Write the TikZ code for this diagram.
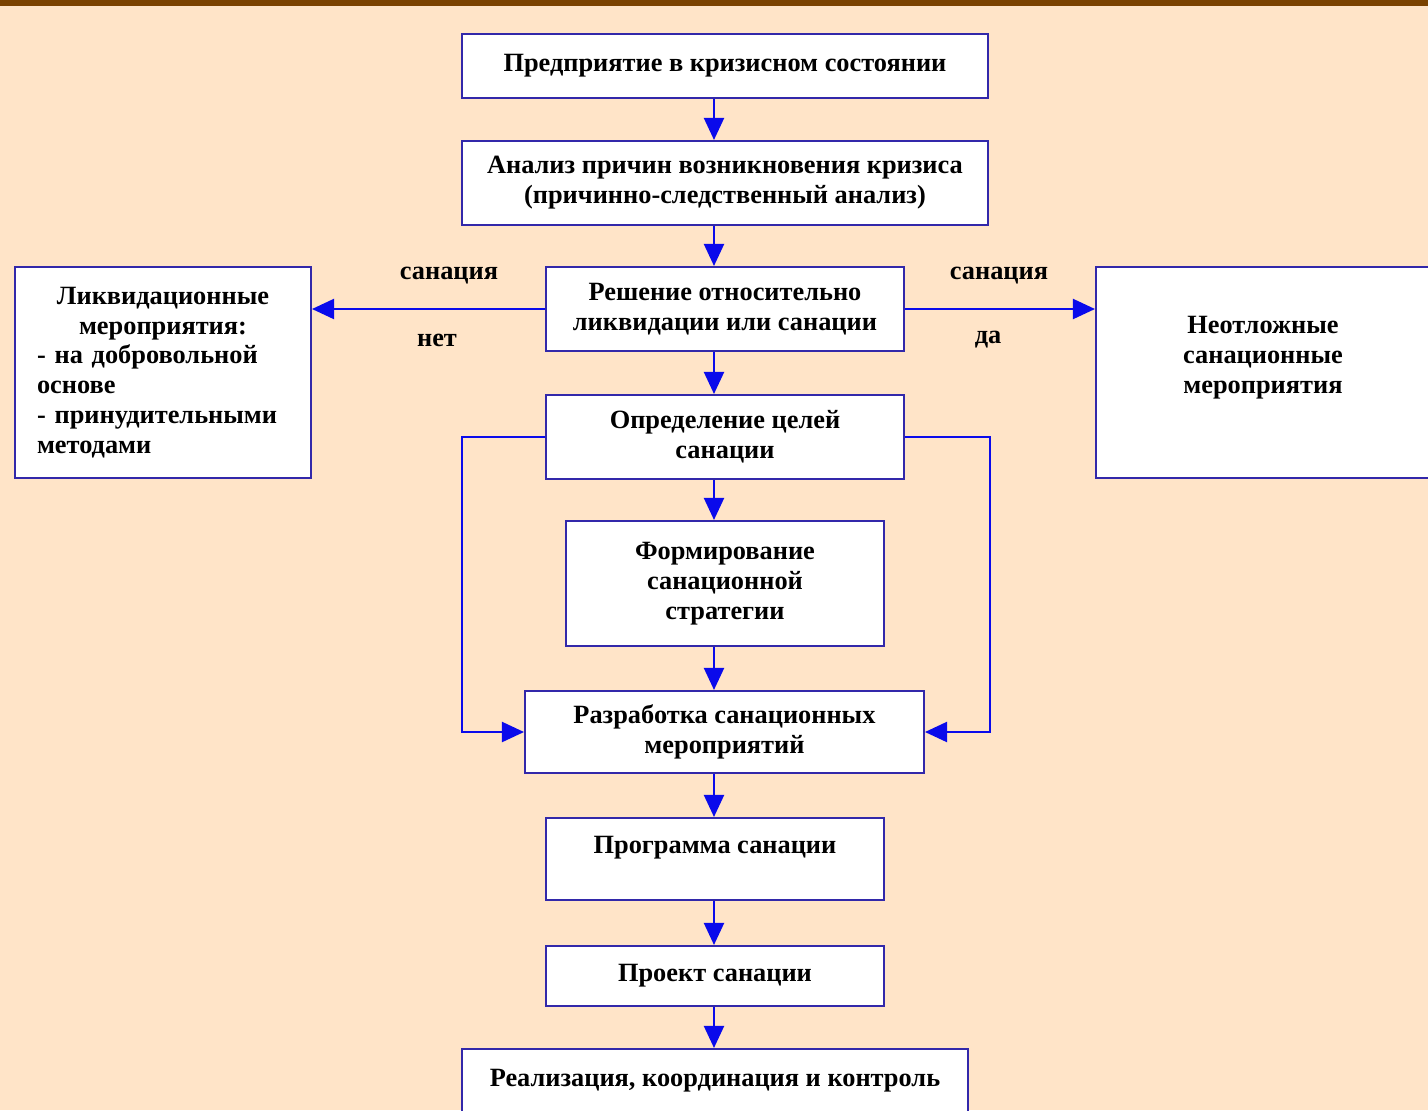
\documentclass[tikz,border=0pt]{standalone}
\usepackage{fontspec}
\setmainfont{Liberation Serif}
\usetikzlibrary{arrows.meta, positioning}
\definecolor{peach}{RGB}{255,228,200}
\definecolor{barbrown}{RGB}{122,66,0}
\definecolor{frameblue}{RGB}{50,40,170}
\definecolor{arrowblue}{RGB}{10,10,235}
\tikzset{
	box/.style={draw=frameblue, line width=1.2pt, fill=white, align=center, inner sep=0pt, font=\bfseries\fontsize{15}{17}\selectfont}, % every block of the scheme
	flow/.style={draw=arrowblue, line width=1.2pt, -{Triangle[length=0.44cm,width=0.4cm]}}, % blue arrows
	lbl/.style={inner sep=0pt, font=\bfseries\fontsize{15}{17}\selectfont}, % texts on the arrows
}

\begin{document}
\begin{tikzpicture}[x=0.02cm, y=-0.02cm]
	% Background
	\useasboundingbox (0,0) rectangle (1428,1110);
	\clip (0,0) rectangle (1428,1110);
	\fill[peach] (0,0) rectangle (1428,1110);
	\fill[barbrown] (0,0) rectangle (1428,6);
	
	% Define blocks
	\node[box, minimum width=10.52cm, minimum height=1.28cm] (crisis) at (725,66) {Предприятие в кризисном состоянии};
	\node[box, minimum width=10.52cm, minimum height=1.68cm] (analysis) at (725,183) {Анализ причин возникновения кризиса\\(причинно-следственный анализ)};
	\node[box, minimum width=7.16cm, minimum height=1.68cm] (decision) at (725,309) {Решение относительно\\ликвидации или санации};
	\node[box, minimum width=5.92cm, minimum height=4.22cm, text width=5.04cm, align=left] (liquid) at (163,372.5) {{\centering Ликвидационные\\мероприятия:\par}- на добровольной\\основе\\- принудительными\\методами};
	\node[box, minimum width=6.88cm, minimum height=4.22cm] (urgent) at (1268,372.5) {};
	\node[lbl, align=center] (urgent-t) at (1263,358) {Неотложные\\санационные\\мероприятия};
	\node[box, minimum width=7.16cm, minimum height=1.68cm] (goals) at (725,437) {Определение целей\\санации};
	\node[box, minimum width=6.36cm, minimum height=2.5cm] (strategy) at (725,583.5) {Формирование\\санационной\\стратегии};
	\node[box, minimum width=7.98cm, minimum height=1.64cm] (measures) at (724.5,732) {Разработка санационных\\мероприятий};
	\node[box, minimum width=6.76cm, minimum height=1.64cm] (program) at (715,859) {};
	\node[lbl] (program-t) at (715,848) {Программа санации};
	\node[box, minimum width=6.76cm, minimum height=1.2cm] (project) at (715,976) {Проект санации};
	\node[box, minimum width=10.12cm, minimum height=1.62cm] (control) at (715,1089.5) {};
	\node[lbl] (control-t) at (715,1081) {Реализация, координация и контроль};
	
	% Arrow line and turning points
	\coordinate (axis) at (714,0);
	\coordinate (westturn) at (462,0);
	\coordinate (eastturn) at (990,0);
	
	% Transitions
	\draw[flow] (crisis.south -| axis) -- (analysis.north -| axis);
	\draw[flow] (analysis.south -| axis) -- (decision.north -| axis);
	\draw[flow] (decision.south -| axis) -- (goals.north -| axis);
	\draw[flow] (goals.south -| axis) -- (strategy.north -| axis);
	\draw[flow] (strategy.south -| axis) -- (measures.north -| axis);
	\draw[flow] (measures.south -| axis) -- (program.north -| axis);
	\draw[flow] (program.south -| axis) -- (project.north -| axis);
	\draw[flow] (project.south -| axis) -- (control.north -| axis);
	\draw[flow] (decision.west) -- (liquid.east |- decision.west);
	\draw[flow] (decision.east) -- (urgent.west |- decision.east);
	\draw[flow] (goals.west) -| (westturn |- measures.west) -- (measures.west);
	\draw[flow] (goals.east) -| (eastturn |- measures.east) -- (measures.east);
	
	% Labels
	\node[lbl] (no-top) at (449,276) {санация};
	\node[lbl] (no) at (437,340) {нет};
	\node[lbl] (yes-top) at (999,276) {санация};
	\node[lbl] (yes) at (988,340) {да};
\end{tikzpicture}
\end{document}
